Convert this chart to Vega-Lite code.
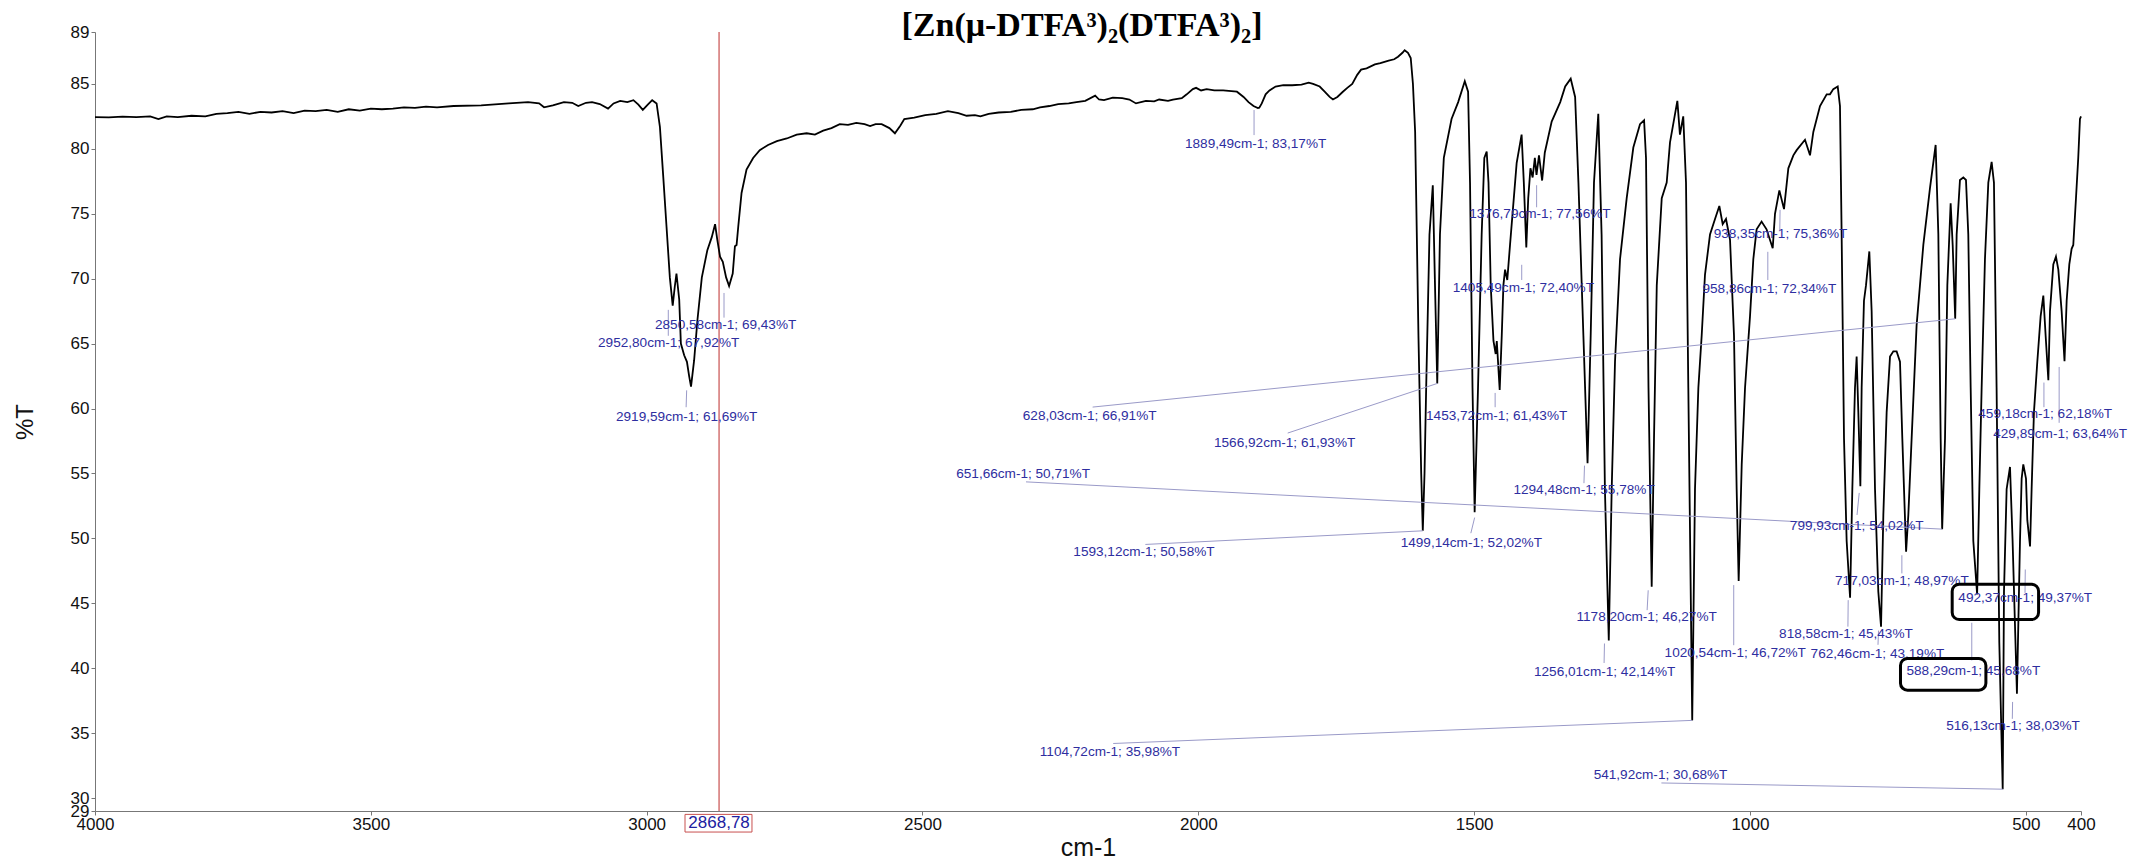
{
"$schema": "https://vega.github.io/schema/vega-lite/v6.json",
"width": 1986, "height": 779,
"autosize": "none",
"padding": {"left": 95, "top": 32, "right": 51, "bottom": 48},
"background": "white",
"title": {"text": "[Zn(μ-DTFA³)₂(DTFA³)₂]", "font": "Liberation Serif", "fontSize": 34, "fontWeight": "bold", "color": "#000000", "anchor": "middle", "frame": "group", "offset": 0, "baseline": "alphabetic", "dy": 47, "dx": -6},
"config": {"view": {"stroke": null}, "font": "Liberation Sans"},
"datasets": {
"spec": [
{"cm":4000,"T":82.45},{"cm":3975,"T":82.42},{"cm":3950,"T":82.48},{"cm":3925,"T":82.45},{"cm":3900,"T":82.5},{"cm":3885,"T":82.3},{"cm":3870,"T":82.5},{"cm":3850,"T":82.45},{"cm":3825,"T":82.55},{"cm":3800,"T":82.5},{"cm":3780,"T":82.7},{"cm":3760,"T":82.75},{"cm":3740,"T":82.85},{"cm":3720,"T":82.7},{"cm":3700,"T":82.85},{"cm":3680,"T":82.8},{"cm":3660,"T":82.9},{"cm":3640,"T":82.75},{"cm":3620,"T":82.95},{"cm":3600,"T":82.9},{"cm":3580,"T":83.0},{"cm":3560,"T":82.85},{"cm":3540,"T":83.05},{"cm":3520,"T":82.95},{"cm":3500,"T":83.1},{"cm":3480,"T":83.05},{"cm":3460,"T":83.1},{"cm":3440,"T":83.2},{"cm":3420,"T":83.15},{"cm":3400,"T":83.25},{"cm":3380,"T":83.2},{"cm":3350,"T":83.3},{"cm":3300,"T":83.35},{"cm":3250,"T":83.5},{"cm":3215,"T":83.6},{"cm":3195,"T":83.5},{"cm":3186,"T":83.2},{"cm":3170,"T":83.35},{"cm":3150,"T":83.6},{"cm":3135,"T":83.55},{"cm":3124,"T":83.3},{"cm":3110,"T":83.55},{"cm":3099,"T":83.6},{"cm":3085,"T":83.45},{"cm":3070,"T":83.1},{"cm":3060,"T":83.5},{"cm":3048,"T":83.7},{"cm":3035,"T":83.6},{"cm":3024,"T":83.75},{"cm":3015,"T":83.4},{"cm":3007,"T":83.0},{"cm":2998,"T":83.4},{"cm":2990,"T":83.75},{"cm":2982,"T":83.5},{"cm":2976,"T":81.7},{"cm":2970,"T":77.9},{"cm":2964,"T":74.0},{"cm":2958,"T":70.1},{"cm":2952.8,"T":67.92},{"cm":2949,"T":69.4},{"cm":2946,"T":70.4},{"cm":2941,"T":68.4},{"cm":2938,"T":65.0},{"cm":2932,"T":64.1},{"cm":2927,"T":63.6},{"cm":2923,"T":62.5},{"cm":2919.59,"T":61.69},{"cm":2914,"T":63.7},{"cm":2908,"T":66.8},{"cm":2900,"T":70.1},{"cm":2890,"T":72.2},{"cm":2882,"T":73.2},{"cm":2876,"T":74.2},{"cm":2872,"T":73.0},{"cm":2867,"T":71.7},{"cm":2862,"T":71.3},{"cm":2856,"T":70.1},{"cm":2850.58,"T":69.43},{"cm":2844,"T":70.4},{"cm":2840,"T":72.5},{"cm":2837,"T":72.6},{"cm":2834,"T":74.0},{"cm":2828,"T":76.6},{"cm":2819,"T":78.4},{"cm":2807,"T":79.3},{"cm":2795,"T":79.9},{"cm":2780,"T":80.3},{"cm":2764,"T":80.6},{"cm":2746,"T":80.8},{"cm":2728,"T":81.1},{"cm":2710,"T":81.2},{"cm":2695,"T":81.1},{"cm":2680,"T":81.4},{"cm":2665,"T":81.6},{"cm":2650,"T":81.9},{"cm":2635,"T":81.85},{"cm":2620,"T":82.0},{"cm":2605,"T":81.9},{"cm":2595,"T":81.75},{"cm":2585,"T":81.9},{"cm":2574,"T":81.9},{"cm":2560,"T":81.6},{"cm":2550,"T":81.2},{"cm":2540,"T":81.8},{"cm":2533,"T":82.3},{"cm":2515,"T":82.4},{"cm":2495,"T":82.6},{"cm":2475,"T":82.7},{"cm":2454,"T":82.9},{"cm":2435,"T":82.75},{"cm":2420,"T":82.55},{"cm":2405,"T":82.6},{"cm":2395,"T":82.5},{"cm":2380,"T":82.7},{"cm":2362,"T":82.8},{"cm":2340,"T":82.85},{"cm":2321,"T":83.0},{"cm":2300,"T":83.05},{"cm":2287,"T":83.2},{"cm":2270,"T":83.3},{"cm":2254,"T":83.45},{"cm":2235,"T":83.5},{"cm":2221,"T":83.6},{"cm":2205,"T":83.7},{"cm":2187,"T":84.1},{"cm":2180,"T":83.8},{"cm":2171,"T":83.75},{"cm":2155,"T":83.95},{"cm":2138,"T":83.9},{"cm":2125,"T":83.8},{"cm":2113,"T":83.5},{"cm":2095,"T":83.7},{"cm":2080,"T":83.65},{"cm":2071,"T":83.8},{"cm":2055,"T":83.7},{"cm":2046,"T":83.8},{"cm":2030,"T":83.9},{"cm":2021,"T":84.2},{"cm":2010,"T":84.6},{"cm":2004,"T":84.7},{"cm":1995,"T":84.5},{"cm":1985,"T":84.6},{"cm":1971,"T":84.5},{"cm":1955,"T":84.5},{"cm":1940,"T":84.45},{"cm":1930,"T":84.4},{"cm":1918,"T":84.0},{"cm":1909,"T":83.6},{"cm":1900,"T":83.3},{"cm":1892,"T":83.15},{"cm":1889.49,"T":83.17},{"cm":1885,"T":83.5},{"cm":1878,"T":84.2},{"cm":1871,"T":84.5},{"cm":1860,"T":84.8},{"cm":1846,"T":84.9},{"cm":1830,"T":84.9},{"cm":1813,"T":84.95},{"cm":1800,"T":85.1},{"cm":1792,"T":85.0},{"cm":1780,"T":84.8},{"cm":1771,"T":84.4},{"cm":1762,"T":84.0},{"cm":1756,"T":83.8},{"cm":1748,"T":84.0},{"cm":1738,"T":84.4},{"cm":1730,"T":84.7},{"cm":1721,"T":85.0},{"cm":1712,"T":85.7},{"cm":1705,"T":86.1},{"cm":1695,"T":86.2},{"cm":1680,"T":86.5},{"cm":1670,"T":86.6},{"cm":1655,"T":86.8},{"cm":1645,"T":86.9},{"cm":1638,"T":87.1},{"cm":1630,"T":87.4},{"cm":1626,"T":87.6},{"cm":1620,"T":87.4},{"cm":1615,"T":87.0},{"cm":1611,"T":85.0},{"cm":1607,"T":81.3},{"cm":1601,"T":65.6},{"cm":1596,"T":55},{"cm":1593.12,"T":50.58},{"cm":1590,"T":55},{"cm":1587,"T":61.6},{"cm":1581,"T":73.4},{"cm":1575,"T":77.2},{"cm":1571,"T":69.5},{"cm":1566.92,"T":61.93},{"cm":1562,"T":73.4},{"cm":1555,"T":79.3},{"cm":1541,"T":82.3},{"cm":1529,"T":83.6},{"cm":1517,"T":85.2},{"cm":1511,"T":84.4},{"cm":1507.5,"T":77.4},{"cm":1503,"T":61.6},{"cm":1499.14,"T":52.02},{"cm":1493,"T":61.6},{"cm":1486.4,"T":73.4},{"cm":1481.6,"T":79.3},{"cm":1477.3,"T":79.8},{"cm":1474,"T":77.4},{"cm":1470,"T":69.5},{"cm":1465,"T":65.2},{"cm":1461,"T":64.2},{"cm":1459,"T":65.2},{"cm":1453.72,"T":61.43},{"cm":1450,"T":65.6},{"cm":1447,"T":69.5},{"cm":1444,"T":70.7},{"cm":1440,"T":69.9},{"cm":1435,"T":72.6},{"cm":1423,"T":78.9},{"cm":1414,"T":81.1},{"cm":1410,"T":77.4},{"cm":1405.49,"T":72.4},{"cm":1402,"T":76.2},{"cm":1398,"T":78.5},{"cm":1394,"T":77.8},{"cm":1390,"T":79.3},{"cm":1387,"T":78.0},{"cm":1382.5,"T":79.5},{"cm":1376.79,"T":77.56},{"cm":1372,"T":79.7},{"cm":1359.5,"T":82.1},{"cm":1344,"T":83.6},{"cm":1335,"T":84.8},{"cm":1325,"T":85.4},{"cm":1317,"T":84.0},{"cm":1311,"T":77.4},{"cm":1305,"T":69.5},{"cm":1302,"T":65.6},{"cm":1294.48,"T":55.78},{"cm":1288.8,"T":65.6},{"cm":1282.8,"T":77.4},{"cm":1275,"T":82.7},{"cm":1269,"T":73.4},{"cm":1263,"T":53.8},{"cm":1256.01,"T":42.14},{"cm":1250.7,"T":53.8},{"cm":1244.7,"T":63.6},{"cm":1235.6,"T":71.5},{"cm":1223.5,"T":76.2},{"cm":1211.5,"T":80.1},{"cm":1199.4,"T":81.9},{"cm":1192,"T":82.2},{"cm":1188.5,"T":79.3},{"cm":1184,"T":61.6},{"cm":1178.2,"T":46.27},{"cm":1174,"T":57.7},{"cm":1169,"T":69.5},{"cm":1160,"T":76.2},{"cm":1151,"T":77.4},{"cm":1145,"T":80.5},{"cm":1131.7,"T":83.7},{"cm":1127,"T":81.1},{"cm":1121,"T":82.5},{"cm":1116,"T":77.4},{"cm":1111.8,"T":61.6},{"cm":1104.72,"T":35.98},{"cm":1099.7,"T":53.8},{"cm":1093.6,"T":61.6},{"cm":1087.6,"T":65.6},{"cm":1081.6,"T":70.3},{"cm":1072.5,"T":73.4},{"cm":1063.4,"T":74.6},{"cm":1055.6,"T":75.6},{"cm":1049.5,"T":74.2},{"cm":1043.5,"T":74.6},{"cm":1036.2,"T":73.0},{"cm":1029,"T":65.6},{"cm":1024.2,"T":53.8},{"cm":1020.54,"T":46.72},{"cm":1015,"T":55.7},{"cm":1009,"T":61.6},{"cm":1000,"T":67.1},{"cm":994,"T":71.5},{"cm":988,"T":73.8},{"cm":979,"T":74.4},{"cm":970,"T":73.8},{"cm":958.86,"T":72.34},{"cm":954.7,"T":75.0},{"cm":946.8,"T":76.8},{"cm":938.35,"T":75.36},{"cm":930.5,"T":78.5},{"cm":921.4,"T":79.5},{"cm":915.4,"T":79.9},{"cm":900.3,"T":80.7},{"cm":891.2,"T":79.5},{"cm":885.2,"T":81.3},{"cm":873.1,"T":83.3},{"cm":861,"T":84.2},{"cm":855,"T":84.2},{"cm":849,"T":84.6},{"cm":841,"T":84.8},{"cm":836.9,"T":83.3},{"cm":833.9,"T":73.4},{"cm":829.6,"T":57.7},{"cm":824.8,"T":49.8},{"cm":818.58,"T":45.43},{"cm":814.5,"T":53.8},{"cm":809.7,"T":61.6},{"cm":806.7,"T":64.0},{"cm":803.6,"T":59.7},{"cm":799.93,"T":54.02},{"cm":797.6,"T":61.6},{"cm":793.4,"T":68.3},{"cm":789.7,"T":69.5},{"cm":783.7,"T":72.1},{"cm":779.5,"T":67.5},{"cm":773.4,"T":53.8},{"cm":767.4,"T":45.9},{"cm":762.46,"T":43.19},{"cm":758.3,"T":51.8},{"cm":752.3,"T":59.7},{"cm":746.2,"T":64.0},{"cm":740.2,"T":64.4},{"cm":734.2,"T":64.4},{"cm":728.1,"T":63.6},{"cm":723.9,"T":57.7},{"cm":717.03,"T":48.97},{"cm":713,"T":51.8},{"cm":707,"T":57.7},{"cm":698,"T":66.4},{"cm":685.8,"T":72.6},{"cm":673.7,"T":77.0},{"cm":663.5,"T":80.3},{"cm":658.6,"T":73.4},{"cm":654.4,"T":57.7},{"cm":651.66,"T":50.71},{"cm":646.5,"T":57.7},{"cm":642.3,"T":69.5},{"cm":636.3,"T":75.8},{"cm":632.6,"T":72.6},{"cm":628.03,"T":66.91},{"cm":625.4,"T":73.4},{"cm":619.4,"T":77.6},{"cm":613.3,"T":77.8},{"cm":608.5,"T":77.6},{"cm":604.3,"T":73.4},{"cm":600,"T":61.6},{"cm":595.2,"T":49.8},{"cm":588.29,"T":45.68},{"cm":584.3,"T":53.8},{"cm":580.1,"T":61.6},{"cm":574.1,"T":71.5},{"cm":568,"T":77.4},{"cm":562,"T":79.0},{"cm":557.8,"T":77.4},{"cm":553,"T":61.6},{"cm":548.1,"T":42.0},{"cm":541.92,"T":30.68},{"cm":539.6,"T":45.9},{"cm":534.8,"T":53.8},{"cm":528.7,"T":55.5},{"cm":524,"T":49.8},{"cm":516.13,"T":38.03},{"cm":510.6,"T":49.8},{"cm":507.6,"T":54.6},{"cm":504.6,"T":55.7},{"cm":499.7,"T":54.6},{"cm":497.3,"T":51.4},{"cm":492.37,"T":49.37},{"cm":489.5,"T":53.8},{"cm":485.3,"T":59.7},{"cm":479.2,"T":63.6},{"cm":473.2,"T":67.1},{"cm":468.3,"T":68.7},{"cm":464.1,"T":65.6},{"cm":459.18,"T":62.18},{"cm":456.2,"T":67.5},{"cm":450.2,"T":71.1},{"cm":445.4,"T":71.7},{"cm":441.1,"T":70.7},{"cm":435.1,"T":67.5},{"cm":429.89,"T":63.64},{"cm":426,"T":68.3},{"cm":421.2,"T":71.1},{"cm":417,"T":72.3},{"cm":414,"T":72.6},{"cm":409.1,"T":76.2},{"cm":405,"T":79.3},{"cm":401.9,"T":82.3},{"cm":400,"T":82.5}
],
"ann": [
{"lab":"2850,58cm-1; 69,43%T","lx":2984.9,"ly":66.43,"x1":2859.8,"y1":68.9,"x2":2859.8,"y2":67.0},
{"lab":"2952,80cm-1; 67,92%T","lx":3088.2,"ly":65.02,"x1":2960.8,"y1":67.6,"x2":2960.8,"y2":65.6},
{"lab":"2919,59cm-1; 61,69%T","lx":3055.6,"ly":59.36,"x1":2927.5,"y1":61.4,"x2":2928.5,"y2":60.1},
{"lab":"1889,49cm-1; 83,17%T","lx":2024.2,"ly":80.37,"x1":1899,"y1":82.99,"x2":1899,"y2":81.06},
{"lab":"628,03cm-1; 66,91%T","lx":2318.2,"ly":59.42,"x1":628.03,"y1":66.91,"x2":2191.6,"y2":60.11},
{"lab":"1566,92cm-1; 61,93%T","lx":1971.6,"ly":57.31,"x1":1566.92,"y1":61.93,"x2":1838,"y2":58.11},
{"lab":"651,66cm-1; 50,71%T","lx":2438.9,"ly":54.92,"x1":651.66,"y1":50.71,"x2":2312.4,"y2":54.35},
{"lab":"1593,12cm-1; 50,58%T","lx":2226.6,"ly":48.96,"x1":1593.12,"y1":50.58,"x2":2096,"y2":49.53},
{"lab":"1104,72cm-1; 35,98%T","lx":2287.4,"ly":33.55,"x1":1104.72,"y1":35.98,"x2":2154.3,"y2":34.2},
{"lab":"1499,14cm-1; 52,02%T","lx":1633.2,"ly":49.65,"x1":1499.14,"y1":51.6,"x2":1506,"y2":50.4},
{"lab":"1453,72cm-1; 61,43%T","lx":1587.3,"ly":59.4,"x1":1462,"y1":61.2,"x2":1462,"y2":60.1},
{"lab":"1405,49cm-1; 72,40%T","lx":1538.9,"ly":69.3,"x1":1413.8,"y1":71.07,"x2":1413.8,"y2":69.9},
{"lab":"1376,79cm-1; 77,56%T","lx":1508.8,"ly":75.0,"x1":1386.8,"y1":77.2,"x2":1386.8,"y2":75.5},
{"lab":"1294,48cm-1; 55,78%T","lx":1428.9,"ly":53.72,"x1":1300,"y1":55.6,"x2":1301,"y2":54.25},
{"lab":"1256,01cm-1; 42,14%T","lx":1391.6,"ly":39.72,"x1":1263.8,"y1":41.9,"x2":1264.5,"y2":40.4},
{"lab":"1178,20cm-1; 46,27%T","lx":1314.5,"ly":43.95,"x1":1184.5,"y1":46.0,"x2":1186.5,"y2":44.47},
{"lab":"1020,54cm-1; 46,72%T","lx":1154.8,"ly":41.18,"x1":1029.5,"y1":46.4,"x2":1029.5,"y2":41.77},
{"lab":"958,86cm-1; 72,34%T","lx":1086.2,"ly":69.18,"x1":967.7,"y1":72.07,"x2":967.7,"y2":69.9},
{"lab":"938,35cm-1; 75,36%T","lx":1065.9,"ly":73.41,"x1":945.5,"y1":75.3,"x2":946,"y2":73.75},
{"lab":"799,93cm-1; 54,02%T","lx":927.8,"ly":50.97,"x1":802,"y1":53.5,"x2":806,"y2":51.8},
{"lab":"818,58cm-1; 45,43%T","lx":947.3,"ly":42.6,"x1":822,"y1":45.24,"x2":822.5,"y2":43.2},
{"lab":"762,46cm-1; 43,19%T","lx":890.2,"ly":41.13,"x1":767,"y1":42.9,"x2":768,"y2":41.8},
{"lab":"717,03cm-1; 48,97%T","lx":845.9,"ly":46.73,"x1":724.7,"y1":48.7,"x2":724.7,"y2":47.3},
{"lab":"588,29cm-1; 45,68%T","lx":716.4,"ly":39.79,"x1":598,"y1":43.5,"x2":598,"y2":40.6},
{"lab":"492,37cm-1; 49,37%T","lx":622.3,"ly":45.37,"x1":501,"y1":47.6,"x2":501.5,"y2":45.8},
{"lab":"516,13cm-1; 38,03%T","lx":644.4,"ly":35.56,"x1":524,"y1":37.4,"x2":524.5,"y2":36.1},
{"lab":"541,92cm-1; 30,68%T","lx":1283.4,"ly":31.81,"x1":541.92,"y1":30.68,"x2":1160.6,"y2":31.16},
{"lab":"459,18cm-1; 62,18%T","lx":586.2,"ly":59.6,"x1":467.2,"y1":62.0,"x2":467.2,"y2":60.1},
{"lab":"429,89cm-1; 63,64%T","lx":559.1,"ly":58.0,"x1":439.6,"y1":63.2,"x2":439.6,"y2":58.9}
],
"boxes": [
{"bx1":727.2,"bx2":572.4,"by1":40.75,"by2":38.31},
{"bx1":633.5,"bx2":476.9,"by1":46.47,"by2":43.75}
],
"cursor": [{"cm":2868.78,"lab":"2868,78","cx1":2930.5,"cx2":2809.1,"cy1":28.74,"cy2":27.38,"cy":28.06}]
},
"layer": [
{"data": {"name": "cursor"}, "mark": {"type": "rule", "color": "#c8504f", "strokeWidth": 1.2},
 "encoding": {"x": {"field": "cm", "type": "quantitative", "scale": {"domain": [400, 4000], "reverse": true, "nice": false, "zero": false}, "axis": {"values": [4000,3500,3000,2500,2000,1500,1000,500,400], "format": "d", "title": "cm-1", "grid": false, "domainColor": "#777777", "tickColor": "#777777", "tickSize": 4, "labelFontSize": 17, "labelFont": "Liberation Sans", "labelColor": "#111111", "labelPadding": 1, "labelFlush": false, "labelOverlap": false, "titleFontSize": 25, "titleFont": "Liberation Sans", "titleFontWeight": "normal", "titleColor": "#111111", "titleY": 36, "titleBaseline": "middle"}}}},
{"data": {"name": "spec"}, "mark": {"type": "line", "color": "#000000", "strokeWidth": 1.8},
 "encoding": {
  "x": {"field": "cm", "type": "quantitative", "scale": {"domain": [400, 4000], "reverse": true, "nice": false, "zero": false}, "axis": {"values": [4000,3500,3000,2500,2000,1500,1000,500,400], "format": "d", "title": "cm-1", "grid": false, "domainColor": "#777777", "tickColor": "#777777", "tickSize": 4, "labelFontSize": 17, "labelFont": "Liberation Sans", "labelColor": "#111111", "labelPadding": 1, "labelFlush": false, "labelOverlap": false, "titleFontSize": 25, "titleFont": "Liberation Sans", "titleFontWeight": "normal", "titleColor": "#111111", "titleY": 36, "titleBaseline": "middle"}},
  "y": {"field": "T", "type": "quantitative", "scale": {"domain": [29, 89], "nice": false, "zero": false}, "axis": {"values": [29,30,35,40,45,50,55,60,65,70,75,80,85,89], "title": "%T", "grid": false, "domainColor": "#777777", "tickColor": "#777777", "tickSize": 4, "labelFontSize": 17, "labelFont": "Liberation Sans", "labelColor": "#111111", "labelPadding": 2, "labelFlush": false, "labelOverlap": false, "titleFontSize": 24, "titleFont": "Liberation Sans", "titleFontWeight": "normal", "titleColor": "#111111", "titleX": -70, "titleY": 389.5, "titleAngle": -90, "titleAlign": "center", "titleBaseline": "middle"}}
 }},
{"data": {"name": "ann"}, "mark": {"type": "rule", "color": "#9a9ac8", "strokeWidth": 1},
 "encoding": {
  "x": {"field": "x1", "type": "quantitative", "scale": {"domain": [400, 4000], "reverse": true, "nice": false, "zero": false}},
  "x2": {"field": "x2"},
  "y": {"field": "y1", "type": "quantitative", "scale": {"domain": [29, 89], "nice": false, "zero": false}},
  "y2": {"field": "y2"}
 }},
{"data": {"name": "ann"}, "mark": {"type": "text", "align": "left", "baseline": "middle", "font": "Liberation Sans", "fontSize": 13.6, "color": "#2e2ea0"},
 "encoding": {
  "x": {"field": "lx", "type": "quantitative", "scale": {"domain": [400, 4000], "reverse": true, "nice": false, "zero": false}},
  "y": {"field": "ly", "type": "quantitative", "scale": {"domain": [29, 89], "nice": false, "zero": false}},
  "text": {"field": "lab"}
 }},
{"data": {"name": "boxes"}, "mark": {"type": "rect", "fillOpacity": 0, "stroke": "#000000", "strokeWidth": 3, "cornerRadius": 7},
 "encoding": {
  "x": {"field": "bx1", "type": "quantitative", "scale": {"domain": [400, 4000], "reverse": true, "nice": false, "zero": false}},
  "x2": {"field": "bx2"},
  "y": {"field": "by1", "type": "quantitative", "scale": {"domain": [29, 89], "nice": false, "zero": false}},
  "y2": {"field": "by2"}
 }},
{"data": {"name": "cursor"}, "mark": {"type": "rect", "fill": "#ffffff", "stroke": "#c8504f", "strokeWidth": 1},
 "encoding": {
  "x": {"field": "cx1", "type": "quantitative", "scale": {"domain": [400, 4000], "reverse": true, "nice": false, "zero": false}},
  "x2": {"field": "cx2"},
  "y": {"field": "cy1", "type": "quantitative", "scale": {"domain": [29, 89], "nice": false, "zero": false}},
  "y2": {"field": "cy2"}
 }},
{"data": {"name": "cursor"}, "mark": {"type": "text", "align": "center", "baseline": "middle", "font": "Liberation Sans", "fontSize": 17, "color": "#2020a0"},
 "encoding": {
  "x": {"field": "cm", "type": "quantitative", "scale": {"domain": [400, 4000], "reverse": true, "nice": false, "zero": false}},
  "y": {"field": "cy", "type": "quantitative", "scale": {"domain": [29, 89], "nice": false, "zero": false}},
  "text": {"field": "lab"}
 }}
]
}
